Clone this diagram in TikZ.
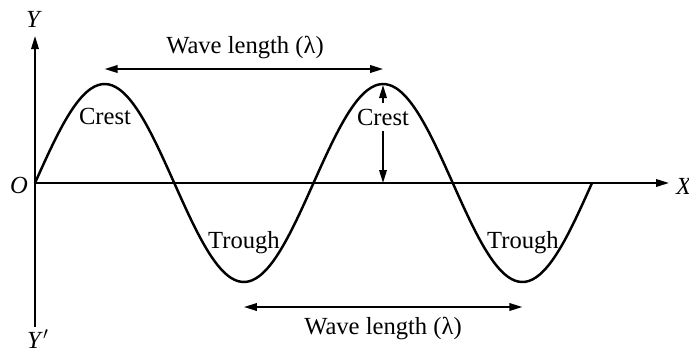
\documentclass[tikz,border=0pt]{standalone}
\usepackage{fontspec}
\setmainfont{Liberation Serif}
\usetikzlibrary{positioning,arrows.meta}

\begin{document}
\begin{tikzpicture}[
  x=0.02cm,y=-0.02cm,
  tip/.style={-{Triangle[length=2.6mm,width=1.5mm]}},
  axis/.style={line width=1.1pt,tip},
  wave/.style={line width=1.4pt},
  dim/.style={line width=1.1pt,{Triangle[length=2.6mm,width=1.5mm]}-{Triangle[length=2.6mm,width=1.5mm]}},
  lab/.style={font=\fontsize{14}{16}\selectfont,inner sep=1pt}]
  \useasboundingbox (0,0) rectangle (689,353);
  % axes
  \coordinate (o) at (35,183);
  \coordinate (ytop) at (35,36);
  \coordinate (ybot) at (35,327);
  \coordinate (xend) at (669,183);
  \draw[axis] (o)--(ytop);
  \draw[line width=1.1pt] (o)--(ybot);
  \draw[axis] (o)--(xend);
  \node[lab] (ylab) at (34,19) {\textit{Y}};
  \node[lab] (yplab) at (38,339) {\textit{Y}$'$};
  \node[lab] (olab) at (19,185) {\textit{O}};
  \node[lab] (xlab) at (684,186) {\textit{X}};
  % the wave
  \draw[wave] plot[domain=35:592,samples=160,smooth] (\x,{183-99*sin(1.29264*(\x-35))});
  % wave length, top and bottom
  \coordinate (top1) at (104.6,69);
  \coordinate (top2) at (383.1,69);
  \draw[dim] (top1)--(top2);
  \node[lab] (wl1) at (245,47) {Wave length (λ)};
  \coordinate (bot1) at (243.9,307);
  \coordinate (bot2) at (522.4,307);
  \draw[dim] (bot1)--(bot2);
  \node[lab] (wl2) at (383,328) {Wave length (λ)};
  % crest and trough labels
  \node[lab] (crest1) at (105,116) {Crest};
  \node[lab,inner sep=3pt] (crest2) at (383,117) {Crest};
  \coordinate (peak2) at (383,85);
  \coordinate (foot2) at (383,183);
  \draw[line width=1.1pt,tip] (crest2)--(peak2);
  \draw[line width=1.1pt,tip] (crest2)--(foot2);
  \node[lab] (trough1) at (244,243) {Trough};
  \node[lab] (trough2) at (523,243) {Trough};
\end{tikzpicture}
\end{document}
